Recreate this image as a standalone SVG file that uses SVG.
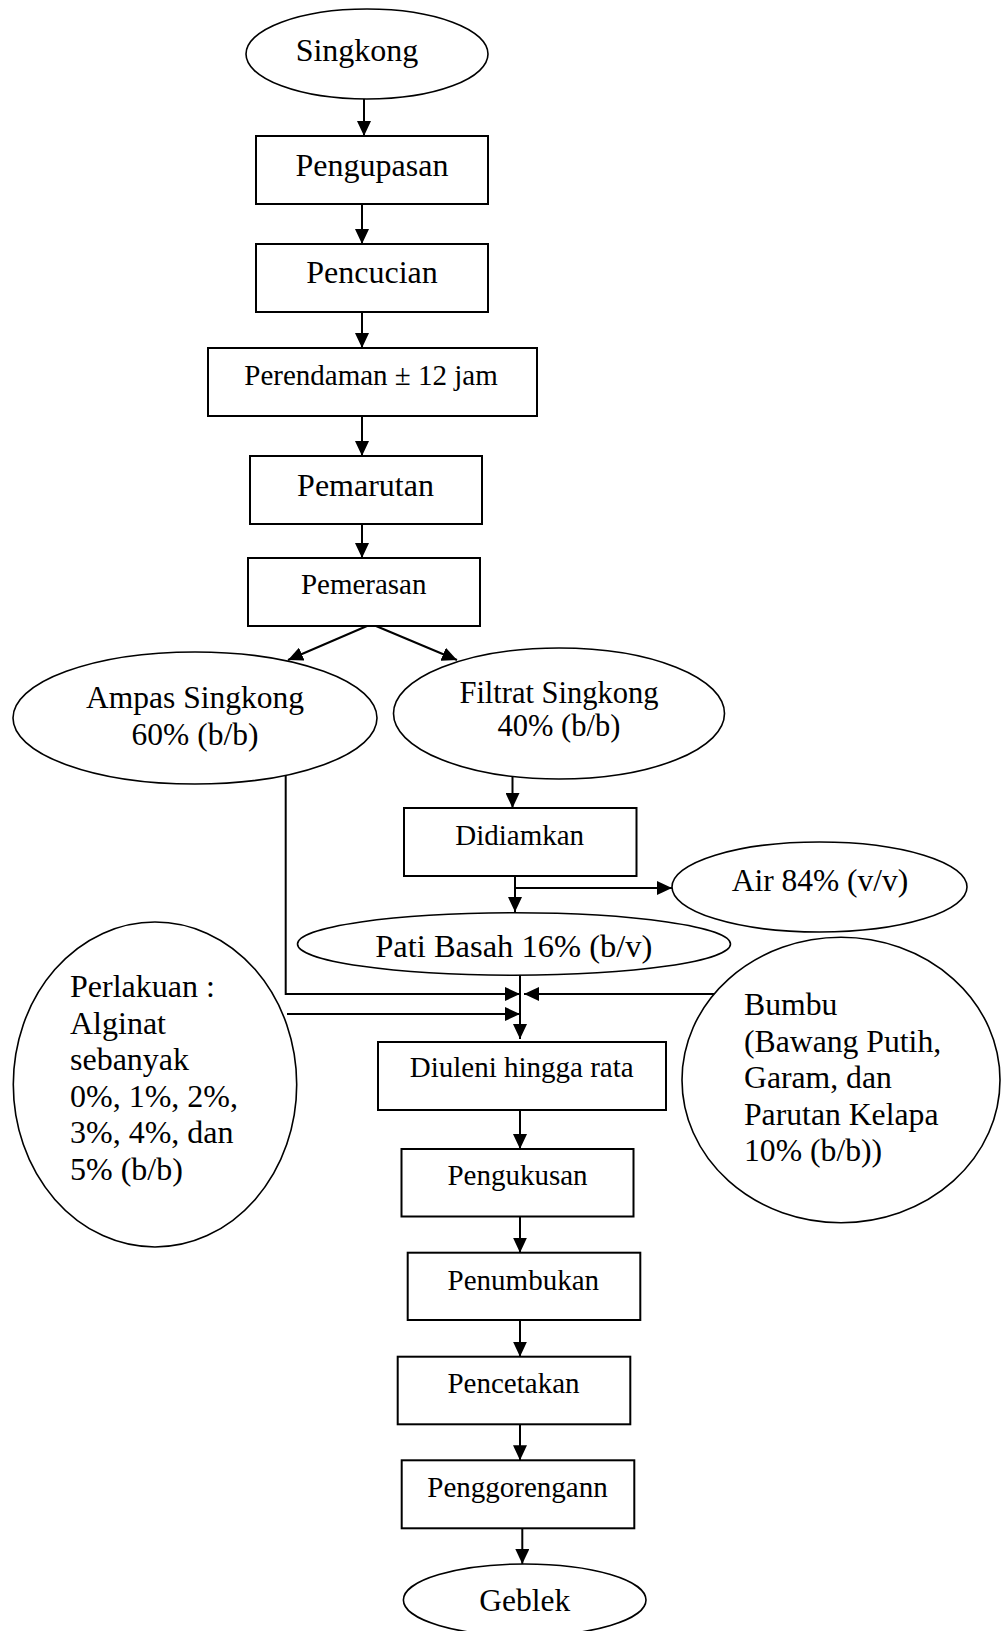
<svg xmlns="http://www.w3.org/2000/svg" width="1001" height="1631" viewBox="0 0 1001 1631">
<style>
.bx{fill:#fff;stroke:#000;stroke-width:2}
.el{fill:#fff;stroke:#000;stroke-width:1.6}
.t{font-family:"Liberation Serif","Times New Roman",serif;fill:#000;text-anchor:middle}
.l{text-anchor:start}
.b{font-size:32px}
.s{font-size:29px}
.cn line,.cn polyline{stroke:#000;stroke-width:2;fill:none}
</style>
<defs>
<marker id="ah" markerUnits="userSpaceOnUse" markerWidth="15" markerHeight="14" refX="15" refY="7" orient="auto">
<path d="M0,0 L15,7 L0,14 z" fill="#000"/>
</marker>
</defs>
<rect width="1001" height="1631" fill="#fff"/>
<g class="cn">
<line x1="364" y1="99" x2="364" y2="136" marker-end="url(#ah)"/>
<line x1="362" y1="204" x2="362" y2="244" marker-end="url(#ah)"/>
<line x1="362" y1="312" x2="362" y2="348" marker-end="url(#ah)"/>
<line x1="362" y1="416" x2="362" y2="456" marker-end="url(#ah)"/>
<line x1="362" y1="524" x2="362" y2="558" marker-end="url(#ah)"/>
<line x1="367" y1="626" x2="288" y2="660" marker-end="url(#ah)"/>
<line x1="376" y1="626" x2="457" y2="660" marker-end="url(#ah)"/>
<line x1="512.5" y1="773" x2="512.5" y2="808" marker-end="url(#ah)"/>
<line x1="515" y1="876" x2="515" y2="912" marker-end="url(#ah)"/>
<line x1="515" y1="888" x2="672" y2="888" marker-end="url(#ah)"/>
<line x1="520" y1="975" x2="520" y2="1039" marker-end="url(#ah)"/>
<polyline points="285.7,775 285.7,994 520,994" marker-end="url(#ah)"/>
<line x1="719" y1="994" x2="524" y2="994" marker-end="url(#ah)"/>
<line x1="287" y1="1014" x2="520" y2="1014" marker-end="url(#ah)"/>
<line x1="520" y1="1110" x2="520" y2="1149" marker-end="url(#ah)"/>
<line x1="520" y1="1216.5" x2="520" y2="1252.7" marker-end="url(#ah)"/>
<line x1="520" y1="1320" x2="520" y2="1356.7" marker-end="url(#ah)"/>
<line x1="520" y1="1424.3" x2="520" y2="1460.3" marker-end="url(#ah)"/>
<line x1="522.3" y1="1528.3" x2="522.3" y2="1564" marker-end="url(#ah)"/>
</g>
<g id="singkong"><ellipse class="el" cx="367" cy="54" rx="121" ry="45"/><text class="t b" x="357" y="61">Singkong</text></g>
<g id="pengupasan"><rect class="bx" x="256" y="136" width="232" height="68"/><text class="t b" x="372" y="176">Pengupasan</text></g>
<g id="pencucian"><rect class="bx" x="256" y="244" width="232" height="68"/><text class="t b" x="372" y="283">Pencucian</text></g>
<g id="perendaman"><rect class="bx" x="208" y="348" width="329" height="68"/><text class="t s" x="371" y="385">Perendaman ± 12 jam</text></g>
<g id="pemarutan"><rect class="bx" x="250" y="456" width="232" height="68"/><text class="t b" x="365.5" y="496">Pemarutan</text></g>
<g id="pemerasan"><rect class="bx" x="248" y="558" width="232" height="68"/><text class="t s" x="363.7" y="594">Pemerasan</text></g>
<g id="ampas"><ellipse class="el" cx="195" cy="718" rx="182" ry="66"/><text class="t" style="font-size:31.5px" x="195" y="707.5">Ampas Singkong</text><text class="t" style="font-size:31.5px" x="195" y="745">60% (b/b)</text></g>
<g id="filtrat"><ellipse class="el" cx="559" cy="713.5" rx="165.5" ry="65.5"/><text class="t" style="font-size:30.5px" x="559" y="703">Filtrat Singkong</text><text class="t" style="font-size:30.5px" x="559" y="736">40% (b/b)</text></g>
<g id="didiamkan"><rect class="bx" x="404" y="808" width="232.5" height="68"/><text class="t s" x="519.7" y="845">Didiamkan</text></g>
<g id="air"><ellipse class="el" cx="819.5" cy="887" rx="147.5" ry="45"/><text class="t" style="font-size:31.5px" x="820" y="891">Air 84% (v/v)</text></g>
<g id="pati"><ellipse class="el" cx="514" cy="944" rx="216.5" ry="31.2"/><text class="t" style="font-size:32.5px" x="513.8" y="957.3">Pati Basah 16% (b/v)</text></g>
<g id="perlakuan"><ellipse class="el" cx="155" cy="1084.5" rx="141.7" ry="162.5"/>
<text class="t l b" x="70" y="997">Perlakuan :</text>
<text class="t l b" x="70" y="1033.6">Alginat</text>
<text class="t l b" x="70" y="1070.2">sebanyak</text>
<text class="t l b" x="70" y="1106.8">0%, 1%, 2%,</text>
<text class="t l b" x="70" y="1143.4">3%, 4%, dan</text>
<text class="t l b" x="70" y="1180">5% (b/b)</text></g>
<g id="bumbu"><ellipse class="el" cx="841" cy="1080" rx="159" ry="142.7"/>
<text class="t l" style="font-size:31.7px" x="744" y="1015">Bumbu</text>
<text class="t l" style="font-size:31.7px" x="744" y="1051.6">(Bawang Putih,</text>
<text class="t l" style="font-size:31.7px" x="744" y="1088.2">Garam, dan</text>
<text class="t l" style="font-size:31.7px" x="744" y="1124.8">Parutan Kelapa</text>
<text class="t l" style="font-size:31.7px" x="744" y="1161.4">10% (b/b))</text></g>
<g id="diuleni"><rect class="bx" x="378" y="1042" width="288" height="68"/><text class="t s" x="521.7" y="1077">Diuleni hingga rata</text></g>
<g id="pengukusan"><rect class="bx" x="401.5" y="1149" width="232" height="67.5"/><text class="t s" x="517.5" y="1185">Pengukusan</text></g>
<g id="penumbukan"><rect class="bx" x="407.7" y="1252.7" width="232.6" height="67.3"/><text class="t s" x="523.3" y="1290">Penumbukan</text></g>
<g id="pencetakan"><rect class="bx" x="397.7" y="1356.7" width="232.6" height="67.6"/><text class="t s" x="513.5" y="1393.3">Pencetakan</text></g>
<g id="penggorengann"><rect class="bx" x="401.7" y="1460.3" width="232.6" height="68"/><text class="t s" x="517.5" y="1497.3">Penggorengann</text></g>
<g id="geblek"><ellipse class="el" cx="524.7" cy="1600" rx="121.3" ry="36"/><text class="t" style="font-size:31.5px" x="524.7" y="1611">Geblek</text></g>
</svg>
